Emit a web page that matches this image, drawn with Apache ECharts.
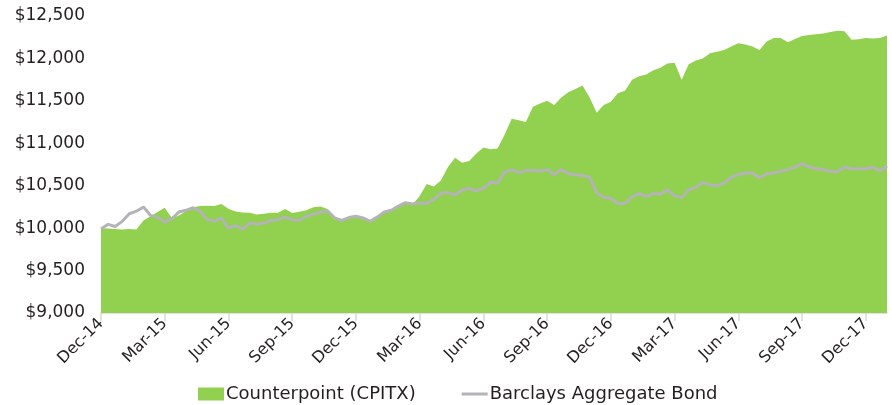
<!DOCTYPE html>
<html>
<head>
<meta charset="utf-8">
<script src="https://cdn.jsdelivr.net/npm/echarts@6/dist/echarts.min.js"></script>
<style>
  html, body { margin: 0; padding: 0; background: #fff; }
  #chart { width: 892px; height: 405px; }
</style>
</head>
<body>
<div id="chart"></div>
<script>
// quarter labels, one every 9 points (3 points per month)
const tickLabels = ['Dec-14', 'Mar-15', 'Jun-15', 'Sep-15', 'Dec-15', 'Mar-16', 'Jun-16',
    'Sep-16', 'Dec-16', 'Mar-17', 'Jun-17', 'Sep-17', 'Dec-17'];
const pointsPerMonth = 3;
const monthCount = 37; // Dec-14 .. Jan-18

// Counterpoint (CPITX), growth of $10,000
const cpitx = [
    10000, 9995, 9990, 9985, 9990, 9985, 10090, 10140, 10190, 10240,
    10120, 10150, 10200, 10245, 10260, 10265, 10260, 10285, 10230, 10195,
    10185, 10180, 10160, 10170, 10180, 10180, 10225, 10178, 10194, 10210,
    10245, 10255, 10225, 10110, 10085, 10115, 10130, 10110, 10075, 10120,
    10180, 10200, 10250, 10290, 10280, 10380, 10520, 10490, 10560, 10720,
    10830, 10770, 10790, 10880, 10950, 10930, 10940, 11100, 11290, 11270,
    11250, 11430, 11470, 11500, 11450, 11540, 11600, 11640, 11680, 11540,
    11360, 11450, 11490, 11590, 11620, 11750, 11790, 11810, 11860, 11890,
    11940, 11950, 11750, 11930, 11975, 12000, 12060, 12080, 12100, 12140,
    12180, 12165, 12140, 12100, 12200, 12240, 12240, 12190, 12230, 12265,
    12275, 12285, 12295, 12310, 12325, 12320, 12220, 12225, 12240, 12235,
    12240, 12270
];

// Barclays Aggregate Bond
const barclays = [
    9990, 10045, 10020, 10080, 10170, 10200, 10250, 10150, 10130, 10070,
    10110, 10190, 10210, 10240, 10200, 10100, 10080, 10120, 10000, 10030,
    9990, 10060, 10045, 10060, 10090, 10100, 10130, 10100, 10090, 10140,
    10165, 10190, 10205, 10120, 10090, 10125, 10140, 10120, 10080, 10130,
    10190, 10210, 10260, 10300, 10285, 10300, 10290, 10340, 10410, 10420,
    10390, 10450, 10470, 10440, 10470, 10540, 10530, 10660, 10690, 10650,
    10680, 10680, 10670, 10690, 10630, 10690, 10640, 10630, 10620, 10600,
    10420, 10360, 10350, 10290, 10290, 10370, 10410, 10370, 10410, 10400,
    10450, 10380, 10360, 10450, 10480, 10540, 10510, 10500, 10530, 10600,
    10630, 10650, 10650, 10590, 10640, 10650, 10670, 10690, 10720, 10760,
    10720, 10700, 10690, 10670, 10665, 10720, 10700, 10700, 10700, 10720,
    10670, 10735
];

const categories = [];
for (let i = 0; i <= monthCount * pointsPerMonth; i++) {
    categories.push(String(i));
}
const isQuarter = (idx) => idx % (pointsPerMonth * 3) === 0;

const font = 'DejaVu Sans';
const chart = echarts.init(document.getElementById('chart'));
chart.setOption({
    animation: false,
    backgroundColor: '#fff',
    textStyle: { fontFamily: font },
    grid: { left: 101, right: 5, top: 16, bottom: 92, containLabel: false },
    legend: {
        top: 380,
        left: 193,
        itemGap: 46,
        itemWidth: 26,
        itemHeight: 13,
        textStyle: { fontFamily: font, fontSize: 18, color: '#231f20', padding: [0, 0, 0, -3] },
        data: [
            { name: 'Counterpoint (CPITX)', icon: 'rect' },
            { name: 'Barclays Aggregate Bond', icon: 'path://M0,0 L26,0 L26,3 L0,3 Z' }
        ]
    },
    xAxis: {
        type: 'category',
        data: categories,
        boundaryGap: false,
        axisLine: { lineStyle: { color: '#d9d9d9', width: 1.5 } },
        axisTick: { interval: (idx) => isQuarter(idx), length: 8, lineStyle: { color: '#d9d9d9', width: 1.5 } },
        axisLabel: {
            interval: (idx) => isQuarter(idx),
            formatter: (val, idx) => tickLabels[idx / (pointsPerMonth * 3)] || '',
            rotate: 45,
            margin: 8,
            fontFamily: font,
            fontSize: 16,
            color: '#231f20'
        }
    },
    yAxis: {
        type: 'value',
        min: 9000,
        max: 12500,
        interval: 500,
        splitLine: { show: false },
        axisLine: { show: false },
        axisTick: { show: false },
        axisLabel: {
            margin: 16,
            fontFamily: font,
            fontSize: 17,
            color: '#231f20',
            formatter: (v) => '$' + v.toLocaleString('en-US')
        }
    },
    series: [
        {
            name: 'Counterpoint (CPITX)',
            type: 'line',
            data: cpitx,
            showSymbol: false,
            color: '#92d050',
            lineStyle: { width: 0 },
            areaStyle: { color: '#92d050', opacity: 1, origin: 'start' }
        },
        {
            name: 'Barclays Aggregate Bond',
            type: 'line',
            data: barclays,
            showSymbol: false,
            color: '#b3b3b8',
            lineStyle: { width: 3, color: '#b3b3b8' }
        }
    ]
});
</script>
</body>
</html>
